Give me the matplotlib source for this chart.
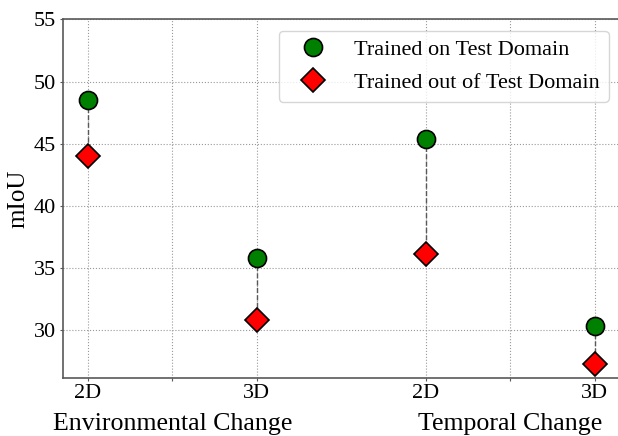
import matplotlib
matplotlib.use("Agg")
import matplotlib.pyplot as plt

plt.rcParams['font.family'] = ['Liberation Serif', 'DejaVu Serif']

# data
tick_labels = ['2D', '3D', '2D', '3D']
group_labels = ['Environmental Change', 'Temporal Change']
on_domain = [48.5, 35.75, 45.4, 30.3]
out_domain = [44.0, 30.8, 36.1, 27.2]

x = list(range(len(tick_labels)))

fig = plt.figure(figsize=(6.18, 4.36), dpi=100)
ax = fig.add_axes([62.5 / 618, 1 - 378 / 436, (620 - 62.5) / 618, (378 - 19.5) / 436])

# dashed connectors between the pairs
for xi, a, b in zip(x, on_domain, out_domain):
    ax.plot([xi, xi], [a, b], color='0.35', linestyle='--', linewidth=1.0, zorder=2)

ax.plot(x, on_domain, linestyle='none', marker='o', markersize=13,
        markerfacecolor='green', markeredgecolor='black', markeredgewidth=1.2,
        label='Trained on Test Domain', zorder=3)
ax.plot(x, out_domain, linestyle='none', marker='D', markersize=12.5,
        markerfacecolor='red', markeredgecolor='black', markeredgewidth=1.2,
        label='Trained out of Test Domain', zorder=3)

ax.set_xlim(-0.15, 3.15)
ax.set_ylim(26.1, 55)
ax.set_yticks([30, 35, 40, 45, 50, 55])
ax.set_xticks([0, 0.5, 1, 2, 2.5, 3])
ax.set_xticklabels([tick_labels[0], '', tick_labels[1], tick_labels[2], '', tick_labels[3]])
ax.tick_params(labelsize=16, length=2, color='0.35', pad=2.5)

ax.grid(True, linestyle=':', color='0.6', linewidth=0.8)
ax.set_axisbelow(True)
for s in ax.spines.values():
    s.set_color('0.35')
    s.set_linewidth(1.2)

ax.set_ylabel('mIoU', fontsize=18, labelpad=3.5)

# group labels under the tick labels
for gx, name in zip([0.5, 2.5], group_labels):
    ax.text(gx, -0.128, name, transform=ax.get_xaxis_transform(),
            ha='center', va='center', fontsize=18.6)

ax.legend(loc='upper right', fontsize=16, handlelength=2.25, handletextpad=0.75,
          labelspacing=0.55, borderaxespad=0.5)

fig.savefig('out.png', dpi=100)
